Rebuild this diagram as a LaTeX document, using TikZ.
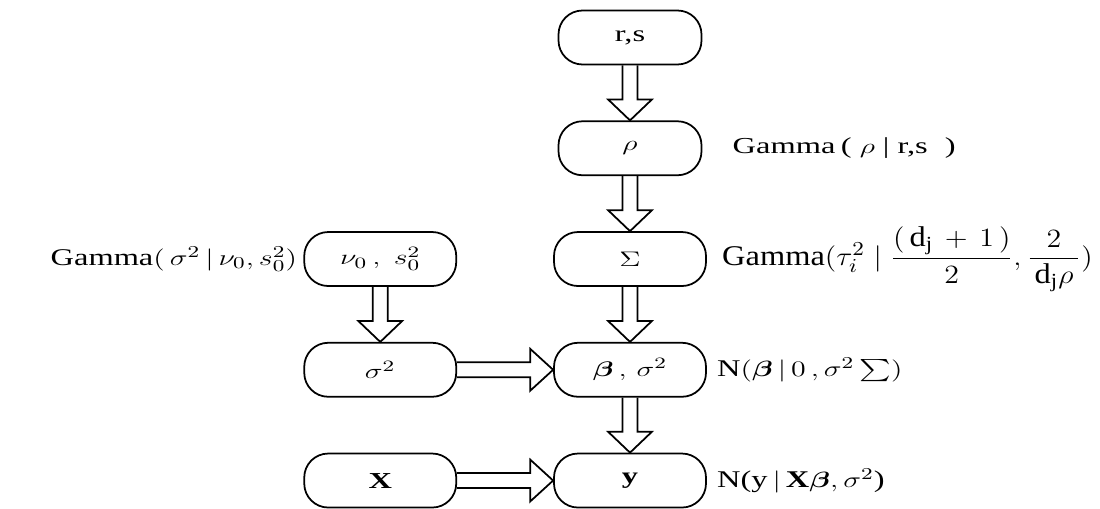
\documentclass[tikz,border=0pt]{standalone}
\usepackage{amsmath}
\usepackage{graphicx}
\usepackage{fontspec}
\setmainfont{Liberation Serif}
\usetikzlibrary{positioning, calc}

% the scanned figure uses a very wide face
\newcommand{\stretchtxt}[2][1]{\scalebox{1.42}[#1]{#2}}

\tikzset{
  varbox/.style={draw, line width=1pt, rounded corners=0.48cm,
                 minimum width=3.04cm, minimum height=1.08cm, inner sep=2pt},
  distlabel/.style={inner sep=0pt},
  fatdown/.style={to path={let \p1=(\tikztostart), \p2=(\tikztotarget) in
    (\x1-0.15cm,\y1) -- (\x1-0.15cm,\y2+0.42cm) -- (\x1-0.44cm,\y2+0.42cm) -- (\x1,\y2)
    -- (\x1+0.44cm,\y2+0.42cm) -- (\x1+0.15cm,\y2+0.42cm) -- (\x1+0.15cm,\y1)}},
  fatright/.style={to path={let \p1=(\tikztostart), \p2=(\tikztotarget) in
    (\x1,\y1+0.15cm) -- (\x2-0.46cm,\y1+0.15cm) -- (\x2-0.46cm,\y1+0.42cm) -- (\x2,\y1)
    -- (\x2-0.46cm,\y1-0.42cm) -- (\x2-0.46cm,\y1-0.15cm) -- (\x1,\y1-0.15cm)}},
}

\begin{document}
\begin{tikzpicture}[font=\fontsize{13}{15}\selectfont, node distance=1.1cm and 1.92cm]
  \useasboundingbox (0,0) rectangle (22,-10.16);

  % main column
  \node[varbox, minimum width=2.86cm] (rs) at (12.6,-0.75) {\stretchtxt{r,s}};
  \node[varbox, minimum width=2.86cm, below=of rs] (rho) {\stretchtxt{$\rho$}};
  \node[varbox, below=of rho] (Sig) {\stretchtxt{$\Sigma$}};
  \node[varbox, below=of Sig] (beta) {\stretchtxt{$\boldsymbol{\beta}\,,\,\sigma^2$}};
  \node[varbox, below=of beta] (y) {\stretchtxt{$\mathbf{y}$}};

  % left column
  \node[varbox, left=of beta] (sig2) {\stretchtxt{$\sigma^2$}};
  \node[varbox, above=of sig2] (nu) {\stretchtxt{$\nu_{0}\,,\;s_0^2$}};
  \node[varbox, left=of y] (X) {\stretchtxt{$\mathbf{X}$}};

  % distributions
  \node[distlabel, right=0.6cm of rho] (rholbl)
    {\stretchtxt{Gamma\,( $\rho$ | r,s\; )}};
  \node[distlabel, right=0.3cm of Sig] (Siglbl)
    {\stretchtxt[1.25]{Gamma$(\tau_i^2\;|\;\dfrac{(\,\mathrm{d_j}\,+\,1\,)}{2},\dfrac{\;2\;}{\,\mathrm{d_j}\rho\,})$}};
  \node[distlabel, right=0.2cm of beta] (betalbl)
    {\stretchtxt[1.05]{N$(\boldsymbol{\beta}\,|\,0\,,\sigma^2\textstyle\sum)$}};
  \node[distlabel, right=0.2cm of y] (ylbl)
    {\stretchtxt[1.05]{N(y$\,|\,\mathbf{X}\boldsymbol{\beta},\sigma^2$)}};
  \node[distlabel, left=0.12cm of nu] (nulbl)
    {\stretchtxt[1.05]{Gamma$(\,\sigma^2\,|\,\nu_0, s_0^2)$}};

  % arrows
  \draw[line width=1pt] (rs.south) to[fatdown] (rho.north);
  \draw[line width=1pt] (rho.south) to[fatdown] (Sig.north);
  \draw[line width=1pt] (Sig.south) to[fatdown] (beta.north);
  \draw[line width=1pt] (beta.south) to[fatdown] (y.north);
  \draw[line width=1pt] (nu.south) to[fatdown] (sig2.north);
  \draw[line width=1pt] (sig2.east) to[fatright] (beta.west);
  \draw[line width=1pt] (X.east) to[fatright] (y.west);
\end{tikzpicture}
\end{document}
